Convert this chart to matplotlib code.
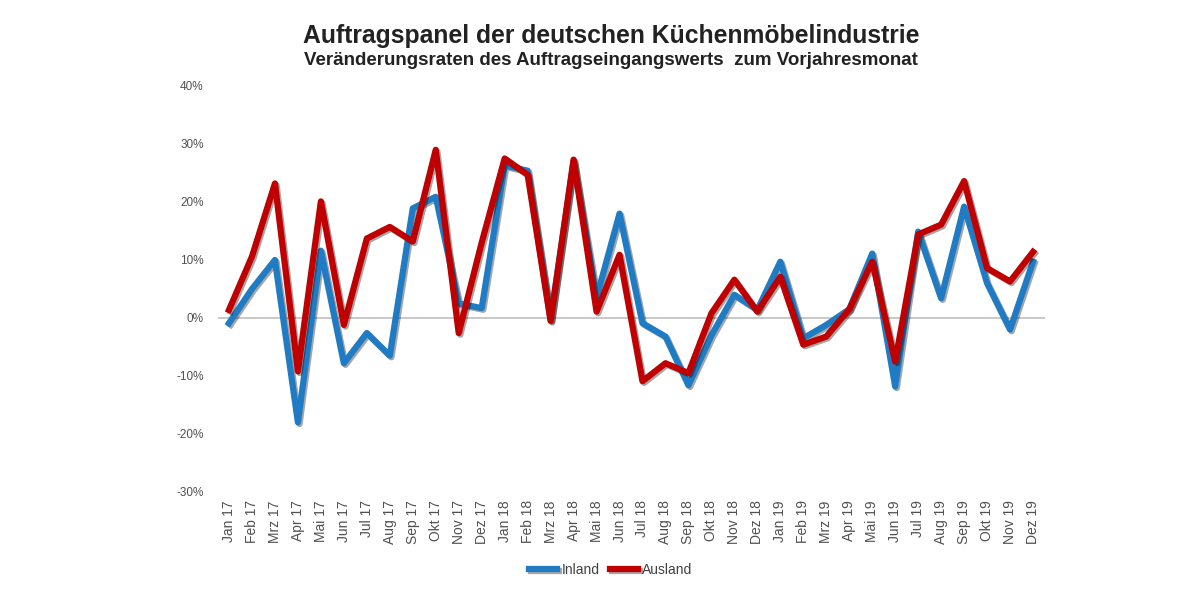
import numpy as np
import matplotlib.pyplot as plt
import matplotlib.patheffects as pe
import matplotlib as mpl

mpl.rcParams["font.family"] = ["Liberation Sans", "DejaVu Sans"]

months = ["Jan", "Feb", "Mrz", "Apr", "Mai", "Jun", "Jul", "Aug", "Sep", "Okt", "Nov", "Dez"]
labels = [f"{m} {y}" for y in ("17", "18", "19") for m in months]

# Veränderung zum Vorjahresmonat in Prozent
inland = [-0.9, 5.0, 10.0, -18.0, 11.6, -7.8, -2.6, -6.5, 18.9, 20.9, 2.5, 1.7,
          26.3, 25.4, -0.3, 27.0, 3.5, 18.0, -0.9, -3.2, -11.6, -3.0, 4.0, 1.4,
          9.7, -3.5, -1.2, 1.5, 11.1, -11.8, 14.9, 3.4, 19.2, 6.0, -2.0, 9.7]
ausland = [1.4, 10.6, 23.2, -9.2, 20.1, -1.2, 13.7, 15.7, 13.2, 29.0, -2.6, 13.0,
           27.5, 24.7, -0.5, 27.3, 1.1, 10.9, -10.9, -7.8, -9.5, 0.8, 6.6, 1.1,
           7.1, -4.6, -3.2, 1.5, 9.7, -7.5, 14.4, 16.1, 23.6, 8.6, 6.3, 11.4]

fig = plt.figure(figsize=(12, 5.99), dpi=100, facecolor="w")
ax = fig.add_axes([217.5 / 1200, 1 - 492 / 599, 827 / 1200, 406 / 599])

x = np.arange(len(labels))
shadow = [pe.SimpleLineShadow(offset=(1.2, -1.2), alpha=0.35), pe.Normal()]
ax.axhline(0, color="#bfbfbf", lw=1.2, zorder=1)
ax.plot(x, inland, color="#1f7cc4", lw=4.5, label="Inland", path_effects=shadow, zorder=3)
ax.plot(x, ausland, color="#c00000", lw=4.5, label="Ausland", path_effects=shadow, zorder=4)

ax.set_xlim(-0.5, len(labels) - 0.5)
ax.set_ylim(-30, 40)
ax.set_yticks(np.arange(-30, 41, 10))
ax.set_yticklabels([f"{v}%" for v in range(-30, 41, 10)])
ax.set_xticks(x)
ax.set_xticklabels(labels, rotation=90)
ax.tick_params(length=0, colors="#505050", labelsize=8.5)
ax.tick_params(axis="x", labelsize=10, pad=6)
ax.tick_params(axis="y", pad=10)
for s in ax.spines.values():
    s.set_visible(False)

fig.text(0.509, 0.94, "Auftragspanel der deutschen Küchenmöbelindustrie",
         ha="center", va="center", fontsize=17.8, fontweight="bold", color="#222222")
fig.text(0.509, 0.899, "Veränderungsraten des Auftragseingangswerts  zum Vorjahresmonat",
         ha="center", va="center", fontsize=13.5, fontweight="bold", color="#222222")

ax.legend(loc="center", bbox_to_anchor=(611 / 1200, 1 - 570 / 599),
          bbox_transform=fig.transFigure, ncol=2, frameon=False,
          handlelength=2.0, handletextpad=0.3, columnspacing=0.8,
          fontsize=10, labelcolor="#404040")

fig.savefig("out.png", dpi=100, facecolor="w")
